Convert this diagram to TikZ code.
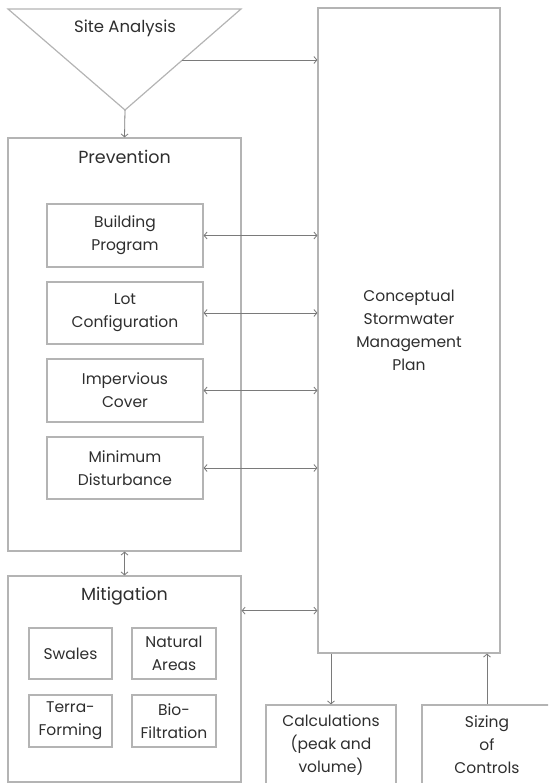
\documentclass[tikz,border=0pt]{standalone}
\usepackage{fontspec}
\setmainfont{Poppins}
\usetikzlibrary{calc, arrows.meta, positioning}
\definecolor{boxgray}{HTML}{B4B4B4}
\definecolor{linkgray}{HTML}{7A7A7A}
\definecolor{textgray}{HTML}{2E2E2E}

\begin{document}
\begin{tikzpicture}[x=1pt, y=-1pt,
        box/.style={draw=boxgray, line width=1.2pt, align=center, text=textgray, inner sep=0pt,
            font=\fontsize{15.5}{23}\selectfont},
        heading/.style={text=textgray, font=\fontsize{17.5}{20}\selectfont},
        link/.style={draw=linkgray, line width=0.8pt, >={Straight Barb[length=3pt, width=7pt]}}]
        \useasboundingbox (0, 0) rectangle (548, 783);
        \clip (0, 0) rectangle (548, 783);
        % site analysis funnel
        \coordinate (tl) at (8, 9);
        \coordinate (tr) at (241, 9);
        \coordinate (apex) at (125, 110);
        \path [draw=boxgray, line width=1.2pt, line join=miter] (tl) -- (tr) -- (apex) -- cycle;
        \node [text=textgray, font=\fontsize{16.5}{20}\selectfont] (site) at (125, 28) {Site Analysis};
        \coordinate (siteout) at ($(tr)!0.505!(apex)$);
        % plan
        \node [box, minimum width=182pt, minimum height=645pt] (plan) at (409, 330.5)
            {Conceptual\\Stormwater\\Management\\Plan};
        % prevention
        \node [box, minimum width=233pt, minimum height=413pt] (prevention) at (124.5, 344.5) {};
        \node [heading] (prevtitle) at (124.5, 157) {Prevention};
        \node [box, minimum width=156pt, minimum height=63pt] (building) at (125, 235.5) {Building\\Program};
        \node [box, minimum width=156pt, minimum height=62pt] (lot) at (125, 313) {Lot\\Configuration};
        \node [box, minimum width=156pt, minimum height=63pt] (impervious) at (125, 390.5) {Impervious\\Cover};
        \node [box, minimum width=156pt, minimum height=62pt] (disturbance) at (125, 468) {Minimum\\Disturbance};
        % mitigation
        \node [box, minimum width=233pt, minimum height=206pt] (mitigation) at (124.5, 679) {};
        \node [heading] (mittitle) at (124.5, 596) {Mitigation};
        \node [box, minimum width=83pt, minimum height=51pt] (swales) at (70.5, 653.5) {Swales};
        \node [box, minimum width=84pt, minimum height=51pt] (natural) at (174, 653.5) {Natural\\Areas};
        \node [box, minimum width=83pt, minimum height=52pt] (terra) at (70.5, 721) {Terra-\\Forming};
        \node [box, minimum width=84pt, minimum height=52pt] (bio) at (174, 721) {Bio-\\Filtration};
        % results
        \node [box, minimum width=130pt, minimum height=80pt] (calc) at (331, 745) {Calculations\\(peak and\\volume)};
        \node [box, minimum width=130pt, minimum height=80pt] (sizing) at (487, 745) {Sizing\\of\\Controls};
        % links
        \path [link, arrows={->}] (siteout) -- (siteout -| plan.west);
        \path [link, arrows={->}] (apex) -- (prevention.north);
        \foreach \b in {building, lot, impervious, disturbance}
            \path [link, arrows={<->}] (\b.east) -- (\b.east -| plan.west);
        \path [link, arrows={<->}] (prevention.south) -- (mitigation.north);
        \path [link, arrows={<->}] ($(mitigation.north east)!0.17!(mitigation.south east)$)
            coordinate (mitout) -- (mitout -| plan.west);
        \path [link, arrows={->}] (calc.north |- plan.south) -- (calc.north);
        \path [link, arrows={->}] (sizing.north) -- (sizing.north |- plan.south);
    \end{tikzpicture}
\end{document}
